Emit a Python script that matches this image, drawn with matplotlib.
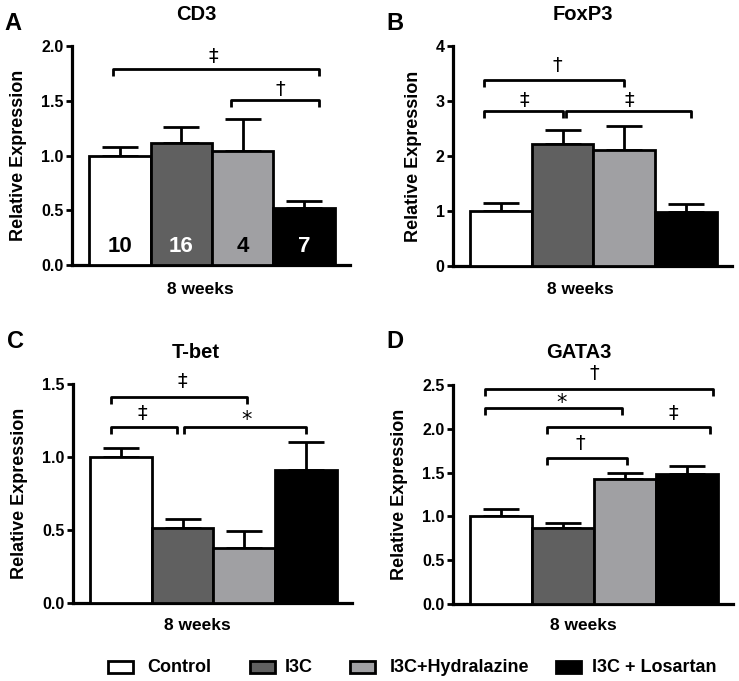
import matplotlib
matplotlib.use("Agg")
import matplotlib.pyplot as plt
import numpy as np

plt.rcParams['font.family'] = ['Liberation Sans', 'DejaVu Sans']
plt.rcParams['font.weight'] = 'bold'

groups = ["Control", "I3C", "I3C+Hydralazine", "I3C + Losartan"]
colors = ["#ffffff", "#606060", "#a0a0a3", "#000000"]

titles = ["CD3", "FoxP3", "T-bet", "GATA3"]
letters = ["A", "B", "C", "D"]

cd3_mean = [1.00, 1.11, 1.04, 0.52]
cd3_err = [0.08, 0.15, 0.29, 0.06]
foxp3_mean = [1.00, 2.21, 2.11, 0.99]
foxp3_err = [0.15, 0.27, 0.44, 0.14]
tbet_mean = [1.00, 0.515, 0.38, 0.91]
tbet_err = [0.065, 0.06, 0.115, 0.19]
gata3_mean = [1.00, 0.87, 1.43, 1.48]
gata3_err = [0.08, 0.055, 0.07, 0.095]

n_labels = ["10", "16", "4", "7"]

yticks_list = [[0.0, 0.5, 1.0, 1.5, 2.0], [0, 1, 2, 3, 4],
               [0.0, 0.5, 1.0, 1.5], [0.0, 0.5, 1.0, 1.5, 2.0, 2.5]]
ytick_fmt = ["{:.1f}", "{:d}", "{:.1f}", "{:.1f}"]

# brackets: (x1, x2, y, symbol, sym_x, sym_y)
brackets = [
    [(-0.11, 3.24, 1.79, "‡", 1.52, 1.90), (1.81, 3.24, 1.51, "†", 2.62, 1.60)],
    [(-0.28, 2.0, 3.38, "†", 0.91, 3.65), (-0.28, 1.01, 2.81, "‡", 0.37, 3.01),
     (1.05, 3.08, 2.81, "‡", 2.08, 3.00)],
    [(-0.16, 2.05, 1.413, "‡", 0.99, 1.52), (-0.16, 0.91, 1.208, "‡", 0.34, 1.30),
     (1.02, 3.0, 1.208, "*", 2.04, 1.25)],
    [(-0.27, 3.42, 2.46, "†", 1.50, 2.63), (-0.27, 1.96, 2.24, "*", 0.97, 2.30),
     (0.74, 3.38, 2.02, "‡", 2.79, 2.18), (0.74, 2.03, 1.67, "†", 1.28, 1.83)],
]

means = [cd3_mean, foxp3_mean, tbet_mean, gata3_mean]
errs = [cd3_err, foxp3_err, tbet_err, gata3_err]

W, H = 739, 681
fig = plt.figure(figsize=(W / 100, H / 100), dpi=100)

# axes pixel boxes: left, right, top, bottom
boxes = [(72, 350, 46, 265), (453, 732, 46, 266), (73, 352, 384, 603), (453, 733, 385, 604)]
title_pos = [(196, 15), (583, 15), (196, 352), (579, 353)]
letter_pos = [(13, 23), (395, 23), (15, 342), (395, 342)]
xlabel_pos = [(200, 290), (580, 290), (197, 625), (583, 625)]

x = np.arange(4)
for i in range(4):
    l, r, t, b = boxes[i]
    ax = fig.add_axes([l / W, 1 - b / H, (r - l) / W, (b - t) / H])
    ymax = yticks_list[i][-1]
    ax.bar(x, means[i], width=1.0, color=colors, edgecolor="black", linewidth=2.0, zorder=3)
    for j in range(4):
        ax.errorbar(x[j], means[i][j], yerr=[[0], [errs[i][j]]], fmt="none",
                    ecolor="black", elinewidth=2.0, capsize=13, capthick=2.0, zorder=2)
    ax.set_xlim(-0.78, 3.75)
    ax.set_ylim(0, ymax)
    ax.set_yticks(yticks_list[i])
    ax.set_yticklabels([ytick_fmt[i].format(v) for v in yticks_list[i]], fontsize=11.5, fontweight="bold")
    ax.set_xticks([])
    for s in ["top", "right"]:
        ax.spines[s].set_visible(False)
    for s in ["left", "bottom"]:
        ax.spines[s].set_linewidth(2.3)
    ax.tick_params(axis="y", width=2, length=4, pad=2)
    ax.set_ylabel("Relative Expression", fontsize=13, fontweight="bold", labelpad=10)
    tick = 7.0 / 219 * ymax
    for (x1, x2, yb, sym, sx, sy) in brackets[i]:
        ax.plot([x1, x1, x2, x2], [yb - tick, yb, yb, yb - tick], color="black",
                lw=2.0, clip_on=False, solid_capstyle="butt", zorder=4)
        ax.text(sx, sy, sym, ha="center", va="center", fontsize=14 if sym != "*" else 15,
                fontweight="normal", family=["DejaVu Sans"], clip_on=False)
    if i == 0:
        tcols = ["black", "white", "black", "white"]
        for j in range(4):
            ax.text(x[j], 0.17, n_labels[j], ha="center", va="center", fontsize=16,
                    fontweight="bold", color=tcols[j], zorder=5)
    tx, ty = title_pos[i]
    fig.text(tx / W, 1 - ty / H, titles[i], ha="center", va="center", fontsize=14.5, fontweight="bold")
    lx, ly = letter_pos[i]
    fig.text(lx / W, 1 - ly / H, letters[i], ha="center", va="center", fontsize=17, fontweight="bold")
    xx, xy = xlabel_pos[i]
    fig.text(xx / W, 1 - xy / H, "8 weeks", ha="center", va="center", fontsize=12.5, fontweight="bold")

# legend
leg_patch_x = [108, 250, 350, 556]
leg_text_x = [147, 285, 390, 592]
for j in range(4):
    px = leg_patch_x[j]
    fig.patches.append(matplotlib.patches.Rectangle((px / W, 1 - 673 / H), 25 / W, 12 / H,
                                                    transform=fig.transFigure, facecolor=colors[j],
                                                    edgecolor="black", linewidth=2.0))
    fig.text(leg_text_x[j] / W, 1 - 667 / H, groups[j], ha="left", va="center",
             fontsize=13, fontweight="bold")

fig.savefig("out.png", dpi=100)
